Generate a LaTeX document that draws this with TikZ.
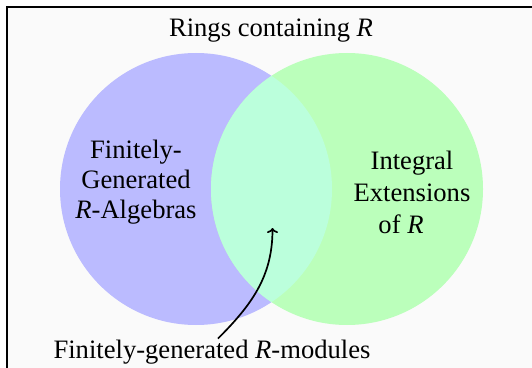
\documentclass[tikz,border=0pt]{standalone}
\usepackage{fontspec}
\setmainfont{Liberation Serif}
\usetikzlibrary{arrows.meta}
\definecolor{bgc}{RGB}{250,250,250}
\definecolor{bluec}{RGB}{187,187,255}
\definecolor{greenc}{RGB}{187,255,187}
\definecolor{mintc}{RGB}{187,255,220}
\tikzset{
  setcircle/.style={circle, minimum size=272pt, inner sep=0pt, draw=none},
  lbl/.style={inner sep=0pt, outer sep=0pt, align=center, font=\fontsize{26.6}{30}\selectfont},
  callout/.style={line width=1.7pt, -{Computer Modern Rightarrow[length=5pt,width=11pt]}}
}
\begin{document}
\begin{tikzpicture}[x=1pt,y=1pt]
\useasboundingbox (0,0) rectangle (532,367);
\fill[bgc] (7,-10) rectangle (545,360);
\draw[line width=2pt] (7,-10) -- (7,360) -- (545,360);
\node[setcircle, fill=bluec] (fga) at (196,178) {};
\node[setcircle, fill=greenc] (ie) at (347,178) {};
\begin{scope}
  \clip (196,178) circle (136);
  \fill[mintc] (347,178) circle (136);
\end{scope}
\node[lbl, anchor=base] (title) at (271,330.5) {Rings containing \textit{R}};
\node[lbl, anchor=base] (left) at (136,149) {Finitely-\\Generated\\\textit{R}-Algebras};
\node[lbl, anchor=base] (right) at (412,134) {Integral\\[1.5pt]Extensions\\[1.5pt]of \textit{R}\hspace*{22pt}};
\node[lbl, anchor=base] (fgm) at (212,9) {Finitely-generated \textit{R}-modules};
\coordinate (tip) at (272.5,139);
\draw[callout] ([xshift=6pt,yshift=1pt]fgm.north) to[out=45,in=-90] (tip);
\end{tikzpicture}
\end{document}
